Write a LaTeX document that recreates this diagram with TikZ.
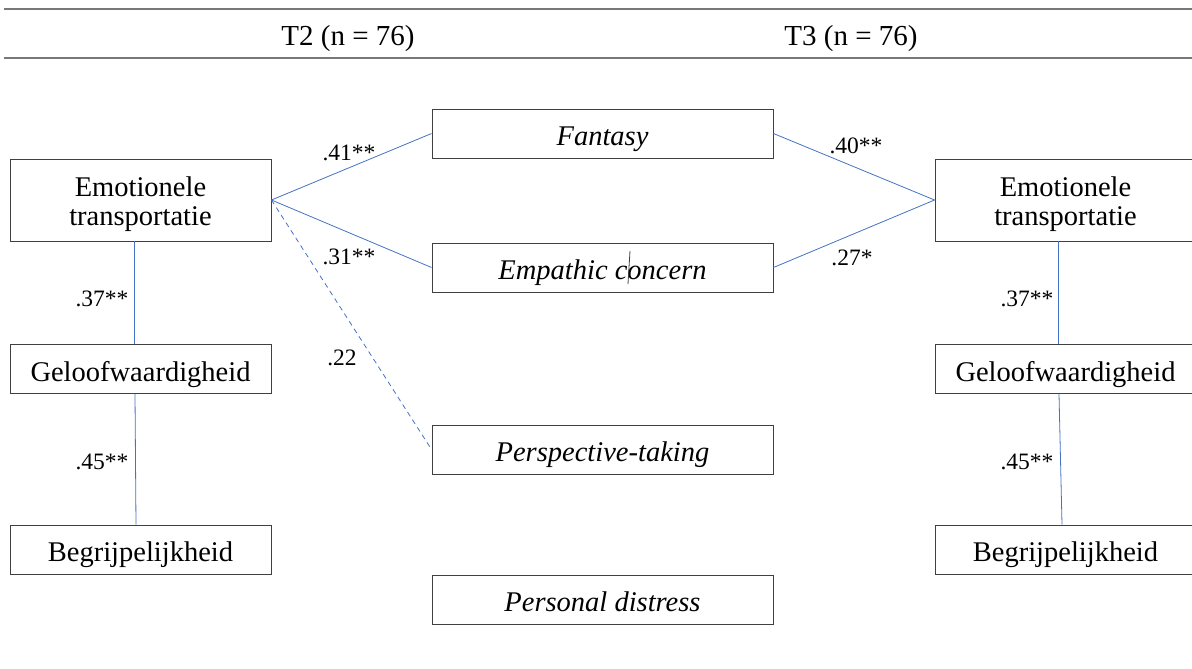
\documentclass[tikz,border=0pt]{standalone}
\usepackage{fontspec}
\setmainfont{Liberation Serif}
\definecolor{linkblue}{RGB}{68,114,196}
\definecolor{boxgray}{RGB}{64,64,64}
\definecolor{rulegray}{RGB}{120,120,120}
\begin{document}
\begin{tikzpicture}[x=1pt,y=-1pt,
  vbox/.style={draw=boxgray,line width=0.9pt,minimum width=261pt,minimum height=49pt,inner sep=0pt,align=center,font=\fontsize{28.5}{29}\selectfont,text height=30pt,text depth=6pt},
  tbox/.style={draw=boxgray,line width=0.9pt,minimum width=261pt,minimum height=82pt,inner sep=0pt},
  ttext/.style={align=center,font=\fontsize{28.5}{29}\selectfont,inner sep=0pt,yshift=-4.5pt},
  mbox/.style={draw=boxgray,line width=0.9pt,minimum width=341pt,minimum height=49pt,inner sep=0pt,font=\fontsize{28.5}{29}\selectfont\itshape,text height=30.5pt,text depth=6pt},
  link/.style={draw=linkblue,line width=0.8pt},
  dlink/.style={link,dash pattern=on 5pt off 4pt},
  lab/.style={font=\fontsize{23.5}{26}\selectfont,inner sep=0pt},
  head/.style={font=\fontsize{29}{32}\selectfont,inner sep=0pt}]
\useasboundingbox (0,0) rectangle (1192,669);
\clip (0,0) rectangle (1192,669);
% header
\draw[rulegray,line width=1.8pt] (4,9) -- (1192,9);
\draw[rulegray,line width=1.8pt] (4,58) -- (1192,58);
\node[head] (t2) at (348,38.5) {T2 (n = 76)};
\node[head] (t3) at (851,38.5) {T3 (n = 76)};
% left column
\node[tbox,label={[ttext]center:Emotionele\\transportatie}] (emoL) at (140.5,200) {};
\node[vbox] (gelL) at (140.5,369) {Geloofwaardigheid};
\node[vbox] (begL) at (140.5,549.5) {Begrijpelijkheid};
% middle column
\node[mbox] (fan) at (602.5,133.5) {Fantasy};
\node[mbox] (emp) at (602.5,267.5) {Empathic concern};
\node[mbox] (per) at (602.5,449.5) {Perspective-taking};
\node[mbox] (dis) at (602.5,599.5) {Personal distress};
% right column
\node[tbox,label={[ttext]center:Emotionele\\transportatie}] (emoR) at (1065.5,200) {};
\node[vbox] (gelR) at (1065.5,369) {Geloofwaardigheid};
\node[vbox] (begR) at (1065.5,549.5) {Begrijpelijkheid};
% stray mark in "Empathic concern"
\draw[boxgray,line width=0.8pt] (630,251) -- (628,284);
% connectors
\draw[link] (emoL.east) -- (fan.west);
\draw[link] (emoL.east) -- (emp.west);
\draw[dlink] (emoL.east) -- (per.west);
\draw[link] (fan.east) -- (emoR.west);
\draw[link] (emp.east) -- (emoR.west);
\draw[link] ([xshift=-6.5pt]emoL.south) -- ([xshift=-6.5pt]gelL.north);
\draw[link] ([xshift=-5.5pt]gelL.south) -- ([xshift=-4.5pt]begL.north);
\draw[link] ([xshift=-7.5pt]emoR.south) -- ([xshift=-7.5pt]gelR.north);
\draw[link] ([xshift=-6.5pt]gelR.south) -- ([xshift=-3.5pt]begR.north);
% labels
\node[lab] (l41) at (349,153) {.41**};
\node[lab] (l31) at (349,257) {.31**};
\node[lab] (l22) at (342,358) {.22};
\node[lab] (l40) at (856,146) {.40**};
\node[lab] (l27) at (852,258) {.27*};
\node[lab] (l37L) at (102,299) {.37**};
\node[lab] (l45L) at (102,462) {.45**};
\node[lab] (l37R) at (1027,299) {.37**};
\node[lab] (l45R) at (1027,462) {.45**};
\end{tikzpicture}
\end{document}
